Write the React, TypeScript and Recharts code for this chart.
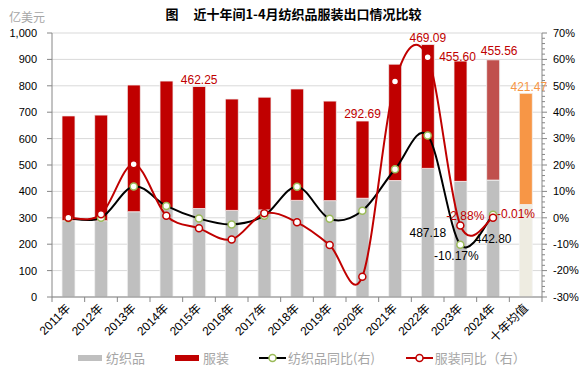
import { ComposedChart, Bar, Line, XAxis, YAxis, CartesianGrid, Cell, LabelList } from "recharts"

const categories = [
  "2011年", "2012年", "2013年", "2014年", "2015年", "2016年", "2017年", "2018年",
  "2019年", "2020年", "2021年", "2022年", "2023年", "2024年", "十年均值",
]
// 纺织品 / 服装 出口额（亿美元）
const textile = [289, 289, 323, 337, 335, 328, 330, 366, 365, 374, 441, 487.18, 438, 442.8, 350]
const apparel = [397, 400, 480, 481, 462.25, 422, 427, 422, 377, 292.69, 441, 469.09, 455.6, 455.56, 421.47]
// 同比（%）
const textileYoY = [-0.2, 0, 11.9, 4.5, -0.3, -2.5, 0.8, 11.8, -0.4, 2.7, 18.4, 31.2, -10.17, 1.2, null]
const apparelYoY = [0, 1.3, 20.3, 0.8, -4.0, -8.2, 1.7, -1.7, -10.3, -22.3, 51.6, 60.8, -2.88, -0.01, null]

const leftTicks = [0, 100, 200, 300, 400, 500, 600, 700, 800, 900, 1000]
const rightMajor = [-30, -20, -10, 0, 10, 20, 30, 40, 50, 60, 70]
const rightTicks = rightMajor.flatMap((m) => (m === 70 ? [m] : [m, m + 2, m + 4, m + 6, m + 8]))

const apparelLabelled = ["2015年", "2020年", "2022年"]
const apparelLabelledLeft = ["2023年"]
const apparelLabelledRight = ["2024年"]
const averageLabelled = ["十年均值"]
const textileLabelled = ["2022年", "2024年"]
const textileYoYBelow = ["2023年"]
const apparelYoYAbove = ["2023年"]
const apparelYoYRight = ["2024年"]

const pct = (v: number | null) => (v == null ? null : `${v.toFixed(2)}%`)
const pick = (list: string[], name: string, v: number) => (list.includes(name) ? v.toFixed(2) : null)

const data = categories.map((name, i) => ({
  name,
  textile: textile[i],
  apparel: apparel[i],
  textileYoY: textileYoY[i],
  apparelYoY: apparelYoY[i],
  apparelLabel: pick(apparelLabelled, name, apparel[i]),
  apparelLabelL: pick(apparelLabelledLeft, name, apparel[i]),
  apparelLabelR: pick(apparelLabelledRight, name, apparel[i]),
  averageLabel: pick(averageLabelled, name, apparel[i]),
  textileLabel: pick(textileLabelled, name, textile[i]),
  tBelow: textileYoYBelow.includes(name) ? pct(textileYoY[i]) : null,
  aAbove: apparelYoYAbove.includes(name) ? pct(apparelYoY[i]) : null,
  aRight: apparelYoYRight.includes(name) ? pct(apparelYoY[i]) : null,
}))

const W = 587
const H = 370
const LEFT_W = 52
const RIGHT_W = 45
const HALF_BAND = (W - LEFT_W - RIGHT_W) / categories.length / 2
const AXIS = "#868686"
const FONT = "'Liberation Sans', 'Noto Sans CJK SC', sans-serif"

// Excel-like smoothed line (Catmull-Rom)
const smoothCurve = (context: any) => {
  let pts: number[][] = []
  return {
    areaStart() {},
    areaEnd() {},
    lineStart() {
      pts = []
    },
    point(x: number, y: number) {
      pts.push([+x, +y])
    },
    lineEnd() {
      if (!pts.length) return
      context.moveTo(pts[0][0], pts[0][1])
      for (let i = 0; i < pts.length - 1; i++) {
        const p0 = pts[i - 1] || pts[i]
        const p1 = pts[i]
        const p2 = pts[i + 1]
        const p3 = pts[i + 2] || p2
        context.bezierCurveTo(
          p1[0] + (p2[0] - p0[0]) / 6,
          p1[1] + (p2[1] - p0[1]) / 6,
          p2[0] - (p3[0] - p1[0]) / 6,
          p2[1] - (p3[1] - p1[1]) / 6,
          p2[0],
          p2[1]
        )
      }
    },
  }
}

const XTick = ({ x, y, payload, index }: any) => (
  <g>
    <line x1={x - HALF_BAND} x2={x - HALF_BAND} y1={y} y2={y + 5} stroke={AXIS} />
    {index === categories.length - 1 && (
      <line x1={x + HALF_BAND} x2={x + HALF_BAND} y1={y} y2={y + 5} stroke={AXIS} />
    )}
    <text
      x={x + 3}
      y={y + 12}
      textAnchor="end"
      fontSize={12}
      fill="#000"
      transform={`rotate(-45 ${x + 3} ${y + 12})`}
    >
      {payload.value}
    </text>
  </g>
)

const RightTick = ({ x, y, payload }: any) => {
  const major = payload.value % 10 === 0
  return (
    <g>
      <line x1={x} x2={x + (major ? 5 : 3)} y1={y} y2={y} stroke={AXIS} />
      {major && (
        <text x={x + 11} y={y} dy="0.35em" fontSize={11} fill="#000">
          {payload.value}%
        </text>
      )}
    </g>
  )
}

const LineIcon = ({ color, ring }: { color: string; ring: string }) => (
  <svg width={27} height={10}>
    <line x1={0} x2={27} y1={5} y2={5} stroke={color} strokeWidth={2} />
    <circle cx={13.5} cy={5} r={3.5} fill="#fff" stroke={ring} strokeWidth={1.5} />
  </svg>
)

const Legend = () => {
  const text = { color: "#A6A6A6", fontSize: 13, marginLeft: 4 }
  const item = { display: "flex", alignItems: "center", marginRight: 30 }
  return (
    <div
      style={{
        position: "absolute",
        left: 78,
        top: 350,
        display: "flex",
        alignItems: "center",
        fontFamily: "'Noto Sans CJK SC', sans-serif",
        lineHeight: "16px",
      }}
    >
      <div style={item}>
        <div style={{ width: 24, height: 6, background: "#BFBFBF" }} />
        <span style={text}>纺织品</span>
      </div>
      <div style={item}>
        <div style={{ width: 24, height: 6, background: "#C00000" }} />
        <span style={text}>服装</span>
      </div>
      <div style={{ ...item, marginRight: 31 }}>
        <LineIcon color="#000" ring="#9BBB59" />
        <span style={{ ...text, marginLeft: 2 }}>纺织品同比(右)</span>
      </div>
      <div style={item}>
        <LineIcon color="#C00000" ring="#C00000" />
        <span style={{ ...text, marginLeft: 2 }}>服装同比（右）</span>
      </div>
    </div>
  )
}

export default function App() {
  return (
    <div style={{ position: "absolute", left: 0, top: 0, width: W, height: H, background: "#fff", fontFamily: FONT }}>
      <div
        style={{
          position: "absolute",
          left: 9,
          top: 8,
          fontSize: 12,
          lineHeight: "18px",
          color: "#A6A6A6",
          fontFamily: "'Noto Sans CJK SC', sans-serif",
        }}
      >
        亿美元
      </div>
      <div
        style={{
          position: "absolute",
          left: 0,
          width: W,
          top: 5,
          textAlign: "center",
          fontSize: 13,
          fontWeight: "bold",
          lineHeight: "18px",
          fontFamily: "'Noto Sans CJK SC', sans-serif",
        }}
      >
        <span style={{ marginRight: 15 }}>图</span>近十年间1-4月纺织品服装出口情况比较
      </div>
      <ComposedChart width={W} height={H} data={data} margin={{ top: 33, right: 0, bottom: 0, left: 0 }}>
        <CartesianGrid yAxisId="left" vertical={false} stroke="#D9D9D9" />
        <XAxis
          dataKey="name"
          height={73}
          interval={0}
          tickSize={0}
          tickMargin={0}
          tickLine={false}
          axisLine={{ stroke: AXIS }}
          tick={<XTick />}
        />
        <YAxis
          yAxisId="left"
          width={LEFT_W}
          domain={[0, 1000]}
          ticks={leftTicks}
          interval={0}
          tickSize={5}
          tickMargin={10}
          tickFormatter={(v: number) => v.toLocaleString("en-US")}
          tick={{ fontSize: 11, fill: "#000" }}
          axisLine={{ stroke: AXIS }}
          tickLine={{ stroke: AXIS }}
        />
        <YAxis
          yAxisId="right"
          orientation="right"
          width={RIGHT_W}
          domain={[-30, 70]}
          ticks={rightTicks}
          interval={0}
          tickSize={0}
          tickMargin={0}
          tickLine={false}
          axisLine={{ stroke: AXIS }}
          tick={<RightTick />}
        />
        <Bar yAxisId="left" dataKey="textile" stackId="a" barSize={13} fill="#BFBFBF" stroke="#F2F2F2" strokeWidth={0.8} isAnimationActive={false}>
          {data.map((d) => (
            <Cell key={d.name} fill={d.name === "十年均值" ? "#EEECE1" : "#BFBFBF"} />
          ))}
          <LabelList dataKey="textileLabel" position="center" fill="#000" fontSize={12} />
        </Bar>
        <Bar yAxisId="left" dataKey="apparel" stackId="a" barSize={13} fill="#C00000" stroke="#F2F2F2" strokeWidth={0.8} isAnimationActive={false}>
          {data.map((d) => (
            <Cell
              key={d.name}
              fill={d.name === "十年均值" ? "#F79646" : d.name === "2024年" ? "#C0504D" : "#C00000"}
            />
          ))}
          <LabelList dataKey="apparelLabel" position="top" offset={3} fill="#C00000" fontSize={12} />
          <LabelList dataKey="apparelLabelL" position="top" offset={0} dx={-3} fill="#C00000" fontSize={12} />
          <LabelList dataKey="apparelLabelR" position="top" offset={5} dx={6} fill="#C00000" fontSize={12} />
          <LabelList dataKey="averageLabel" position="top" offset={2} dx={3} fill="#F79646" fontSize={12} />
        </Bar>
        <Line
          yAxisId="right"
          dataKey="textileYoY"
          type={smoothCurve as any}
          stroke="#000"
          strokeWidth={2}
          dot={{ r: 3.5, fill: "#fff", stroke: "#9BBB59", strokeWidth: 1.5 }}
          activeDot={false}
          isAnimationActive={false}
        >
          <LabelList dataKey="tBelow" position="bottom" offset={7} dx={-4} fill="#000" fontSize={12} />
        </Line>
        <Line
          yAxisId="right"
          dataKey="apparelYoY"
          type={smoothCurve as any}
          stroke="#C00000"
          strokeWidth={2}
          dot={{ r: 3.5, fill: "#fff", stroke: "#C00000", strokeWidth: 1.5 }}
          activeDot={false}
          isAnimationActive={false}
        >
          <LabelList dataKey="aAbove" position="top" offset={5} dx={5} fill="#C00000" fontSize={12} />
          <LabelList dataKey="aRight" position="right" offset={4} dy={-4} fill="#C00000" fontSize={12} />
        </Line>
      </ComposedChart>
      <Legend />
    </div>
  )
}
